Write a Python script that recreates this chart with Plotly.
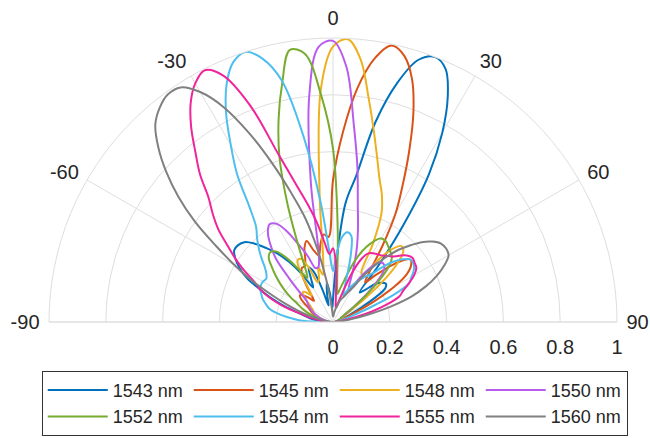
import plotly.graph_objects as go

# Angle grid (degrees), 0 = broadside, negative = left
theta = [-90, -87, -84, -81, -78, -75, -72, -69, -66, -63, -60, -57, -54, -51, -48, -45,
         -42, -39, -36, -33, -30, -27, -24, -21, -18, -15, -12, -9, -6, -3, 0, 3, 6, 9,
         12, 15, 18, 21, 24, 27, 30, 33, 36, 39, 42, 45, 48, 51, 54, 57, 60, 63, 66, 69,
         72, 75, 78, 81, 84, 87, 90]

names = ["1543 nm", "1545 nm", "1548 nm", "1550 nm",
         "1552 nm", "1554 nm", "1555 nm", "1560 nm"]

r_1543 = [0.02, 0.03, 0.05, 0.08, 0.10, 0.13, 0.18, 0.23, 0.28, 0.34, 0.38, 0.41, 0.43, 0.43, 0.42, 0.39,
          0.35, 0.31, 0.26, 0.20, 0.14, 0.17, 0.21, 0.19, 0.12, 0.06, 0.10, 0.14, 0.10, 0.05, 0.08, 0.20, 0.42, 0.52,
          0.72, 0.87, 0.97, 1.00, 0.975, 0.89, 0.77, 0.62, 0.42, 0.25, 0.14, 0.16, 0.20, 0.22, 0.23, 0.22, 0.17, 0.11, 0.07, 0.05,
          0.04, 0.03, 0.02, 0.02, 0.01, 0.01, 0.01]
r_1545 = [0.01, 0.02, 0.02, 0.03, 0.04, 0.05, 0.06, 0.07, 0.08, 0.09, 0.10, 0.12, 0.14, 0.15, 0.14, 0.12,
          0.10, 0.12, 0.16, 0.20, 0.22, 0.22, 0.24, 0.28, 0.30, 0.26, 0.24, 0.28, 0.31, 0.30, 0.50, 0.67, 0.83, 0.94,
          0.995, 0.97, 0.90, 0.79, 0.66, 0.54, 0.44, 0.32, 0.22, 0.18, 0.22, 0.27, 0.32, 0.35, 0.34, 0.31, 0.25, 0.17, 0.10, 0.06,
          0.04, 0.03, 0.02, 0.02, 0.01, 0.01, 0.01]
r_1548 = [0.01, 0.01, 0.02, 0.02, 0.03, 0.04, 0.05, 0.06, 0.07, 0.08, 0.08, 0.09, 0.10, 0.12, 0.14, 0.15,
          0.14, 0.12, 0.15, 0.21, 0.25, 0.25, 0.21, 0.15, 0.16, 0.20, 0.17, 0.22, 0.45, 0.82, 0.97, 0.997, 0.93, 0.80,
          0.69, 0.60, 0.53, 0.48, 0.42, 0.31, 0.20, 0.20, 0.27, 0.33, 0.36, 0.35, 0.30, 0.22, 0.13, 0.07, 0.05, 0.04, 0.03, 0.03,
          0.02, 0.02, 0.01, 0.01, 0.01, 0.01, 0.01]
r_1550 = [0.01, 0.01, 0.02, 0.02, 0.03, 0.04, 0.05, 0.06, 0.07, 0.08, 0.09, 0.10, 0.11, 0.12, 0.16, 0.22,
          0.30, 0.35, 0.39, 0.41, 0.40, 0.36, 0.30, 0.25, 0.20, 0.20, 0.24, 0.50, 0.80, 0.97, 0.99, 0.90, 0.70, 0.55,
          0.42, 0.34, 0.27, 0.20, 0.14, 0.12, 0.16, 0.21, 0.25, 0.27, 0.27, 0.25, 0.20, 0.14, 0.09, 0.06, 0.04, 0.03, 0.03, 0.02,
          0.02, 0.02, 0.01, 0.01, 0.01, 0.01, 0.01]
r_1552 = [0.01, 0.02, 0.03, 0.04, 0.05, 0.06, 0.08, 0.10, 0.12, 0.14, 0.17, 0.20, 0.23, 0.26, 0.29, 0.32,
          0.33, 0.32, 0.28, 0.22, 0.18, 0.22, 0.31, 0.45, 0.61, 0.74, 0.86, 0.97, 0.95, 0.80, 0.61, 0.32, 0.14, 0.10,
          0.12, 0.15, 0.20, 0.25, 0.29, 0.32, 0.34, 0.34, 0.33, 0.32, 0.31, 0.28, 0.22, 0.15, 0.09, 0.05, 0.04, 0.03, 0.03, 0.02,
          0.02, 0.02, 0.01, 0.01, 0.01, 0.01, 0.01]
r_1554 = [0.05, 0.12, 0.16, 0.20, 0.23, 0.245, 0.26, 0.27, 0.28, 0.285, 0.285, 0.28, 0.29, 0.31, 0.34, 0.37,
          0.40, 0.43, 0.50, 0.62, 0.72, 0.83, 0.92, 0.98, 1.00, 0.96, 0.87, 0.66, 0.43, 0.25, 0.18, 0.24, 0.30, 0.32,
          0.31, 0.24, 0.14, 0.10, 0.12, 0.14, 0.16, 0.18, 0.20, 0.22, 0.26, 0.30, 0.33, 0.35, 0.35, 0.34, 0.32, 0.30, 0.23, 0.13,
          0.07, 0.04, 0.03, 0.02, 0.02, 0.01, 0.01]
r_1555 = [0.02, 0.03, 0.04, 0.06, 0.09, 0.13, 0.19, 0.24, 0.28, 0.31, 0.36, 0.41, 0.46, 0.52, 0.57, 0.62,
          0.70, 0.77, 0.85, 0.92, 0.97, 0.995, 0.95, 0.82, 0.62, 0.50, 0.42, 0.35, 0.28, 0.24, 0.26, 0.20, 0.10, 0.06,
          0.05, 0.07, 0.11, 0.18, 0.24, 0.27, 0.28, 0.285, 0.29, 0.30, 0.31, 0.33, 0.35, 0.36, 0.355, 0.35, 0.33, 0.30, 0.27, 0.25,
          0.20, 0.14, 0.08, 0.04, 0.02, 0.01, 0.01]
r_1560 = [0.00, 0.005, 0.01, 0.03, 0.05, 0.09, 0.13, 0.18, 0.24, 0.32, 0.40, 0.49, 0.60, 0.70, 0.79, 0.87,
          0.935, 0.97, 0.99, 0.985, 0.935, 0.85, 0.73, 0.60, 0.48, 0.38, 0.26, 0.15, 0.07, 0.03, 0.02, 0.02, 0.03, 0.04,
          0.05, 0.06, 0.08, 0.09, 0.10, 0.12, 0.14, 0.19, 0.24, 0.29, 0.34, 0.38, 0.42, 0.45, 0.47, 0.475, 0.47, 0.44, 0.40, 0.35,
          0.29, 0.21, 0.13, 0.07, 0.03, 0.01, 0.00]

series = [r_1543, r_1545, r_1548, r_1550, r_1552, r_1554, r_1555, r_1560]
colors = ["#0072BD", "#D95319", "#EDB120", "#B85CF0",
          "#77AC30", "#4DBEEE", "#F0249C", "#808080"]

angle_ticks = [-90, -60, -30, 0, 30, 60, 90]
angle_labels = ["-90", "-60", "-30", "0", "30", "60", "90"]
radial_ticks = [0, 0.2, 0.4, 0.6, 0.8, 1.0]
radial_labels = ["0", "0.2", "0.4", "0.6", "0.8", "1"]

fig = go.Figure()
for name, r, c in zip(names, series, colors):
    fig.add_trace(go.Scatterpolar(
        r=r, theta=theta, mode="lines", name=name,
        line=dict(color=c, width=2, shape="spline", smoothing=1.0),
    ))

grid = "#DEDEDE"
txt = "#262626"
fig.update_layout(
    width=650, height=438,
    margin=dict(l=0, r=0, t=0, b=0),
    paper_bgcolor="white",
    font=dict(family="Liberation Sans, Arial, sans-serif", size=20, color=txt),
    polar=dict(
        domain=dict(x=[49 / 650, 617 / 650], y=[(438 - 322) / 438, (438 - 38) / 438]),
        sector=[0, 180],
        bgcolor="white",
        angularaxis=dict(
            rotation=90, direction="clockwise",
            tickmode="array", tickvals=angle_ticks, ticktext=angle_labels,
            showgrid=True, gridcolor=grid, gridwidth=1,
            showline=True, linecolor=grid, linewidth=1,
            ticks="outside", ticklen=5, tickcolor="rgba(0,0,0,0)",
            tickfont=dict(size=20, color=txt),
        ),
        radialaxis=dict(
            range=[0, 1], angle=0, side="clockwise",
            tickmode="array", tickvals=radial_ticks, ticktext=radial_labels,
            showgrid=True, gridcolor=grid, gridwidth=1,
            showline=False, ticks="outside", ticklen=7, tickcolor="rgba(0,0,0,0)",
            tickangle=0, tickfont=dict(size=20, color=txt),
        ),
    ),
    showlegend=True,
    legend=dict(
        orientation="h", x=0.515, xanchor="center", y=0.005, yanchor="bottom",
        bordercolor="#333333", borderwidth=1, bgcolor="white",
        entrywidth=71, entrywidthmode="pixels", itemwidth=60,
        font=dict(size=18, color=txt), tracegroupgap=0,
    ),
)

fig.write_html("out.html")
